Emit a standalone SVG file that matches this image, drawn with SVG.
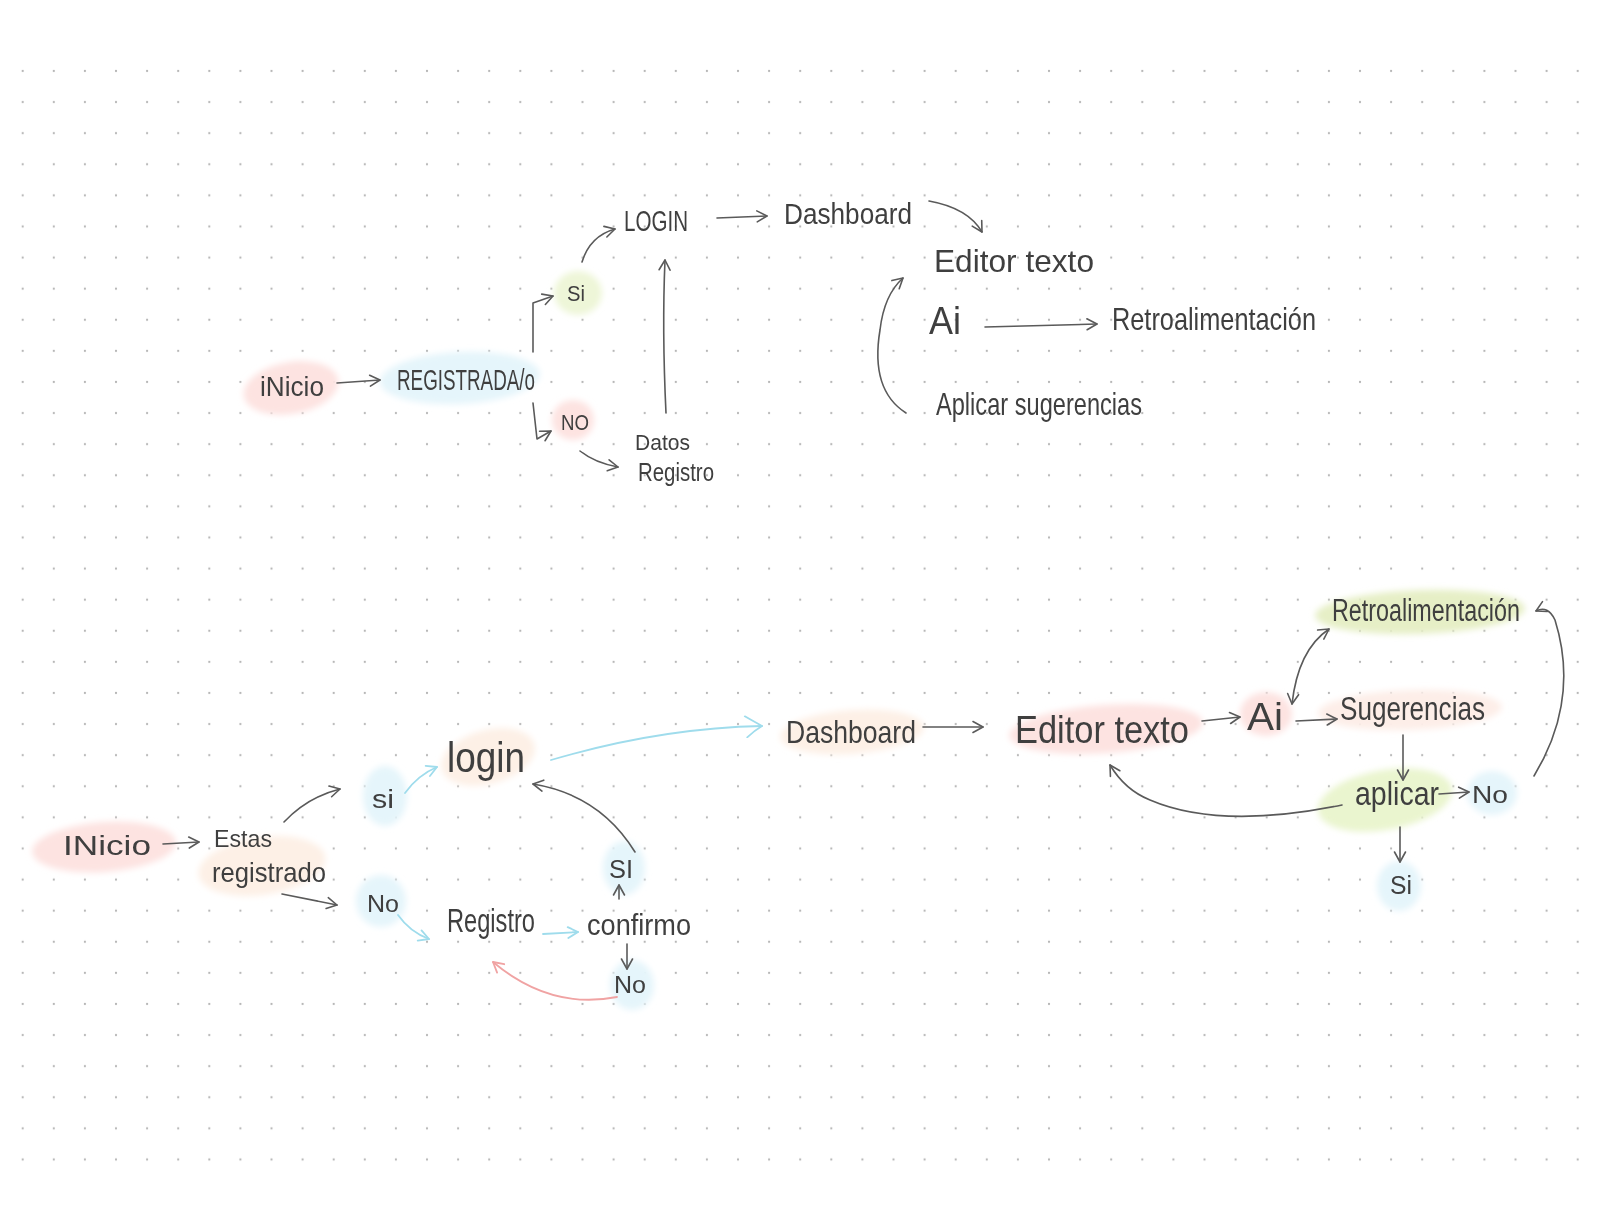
<svg xmlns="http://www.w3.org/2000/svg" width="1600" height="1230" viewBox="0 0 1600 1230">
<defs>
<pattern id="dots" patternUnits="userSpaceOnUse" x="7.15" y="55.45" width="31.1" height="31.1">
<circle cx="15.55" cy="15.55" r="1.1" fill="#b4b4b4"/>
</pattern>
<filter id="soft" x="-20%" y="-40%" width="140%" height="180%"><feGaussianBlur stdDeviation="3"/></filter>
<marker id="ag" viewBox="0 0 14 14" refX="12" refY="7" markerWidth="14" markerHeight="14" markerUnits="userSpaceOnUse" orient="auto-start-reverse"><path d="M2,1.5 L12,7 L2,12.5" fill="none" stroke="#5a5a5a" stroke-width="1.6" stroke-linecap="round" stroke-linejoin="round"/></marker>
<marker id="ab" viewBox="0 0 14 14" refX="12" refY="7" markerWidth="14" markerHeight="14" markerUnits="userSpaceOnUse" orient="auto"><path d="M2,1.5 L12,7 L2,12.5" fill="none" stroke="#9fdcec" stroke-width="1.8" stroke-linecap="round" stroke-linejoin="round"/></marker>
<marker id="abig" viewBox="0 0 24 24" refX="21" refY="12" markerWidth="24" markerHeight="24" markerUnits="userSpaceOnUse" orient="auto"><path d="M4,2 Q14,8 21,12 Q14,16 6,23" fill="none" stroke="#9fdcec" stroke-width="1.8" stroke-linecap="round" stroke-linejoin="round"/></marker>
<marker id="ap" viewBox="0 0 14 14" refX="12" refY="7" markerWidth="14" markerHeight="14" markerUnits="userSpaceOnUse" orient="auto"><path d="M2,1.5 L12,7 L2,12.5" fill="none" stroke="#f0a3a3" stroke-width="1.8" stroke-linecap="round" stroke-linejoin="round"/></marker>
</defs>
<style>
text{font-family:"Liberation Sans","DejaVu Sans",sans-serif;fill:#3f3f3f;}
.c{fill:none;stroke:#5a5a5a;stroke-width:1.6;stroke-linecap:round;stroke-linejoin:round;}
.cb{fill:none;stroke:#9fdcec;stroke-width:1.8;stroke-linecap:round;}
.cp{fill:none;stroke:#f0a3a3;stroke-width:1.8;stroke-linecap:round;}
.pink{fill:#fde3e1;}
.blue{fill:#e5f5fb;}
.green{fill:#eef6d8;}
.peach{fill:#fdf0e6;}
.lime{fill:#e6efc6;}
</style>
<rect width="1600" height="1230" fill="#ffffff"/>
<rect x="7" y="55" width="1590" height="1120" fill="url(#dots)"/>

<g id="blobs" filter="url(#soft)">
<ellipse class="pink" cx="291" cy="388" rx="48" ry="26" transform="rotate(-10 291 388)"/>
<ellipse class="blue" cx="460" cy="378" rx="80" ry="26" transform="rotate(-3 460 378)"/>
<ellipse class="green" cx="578" cy="293" rx="24" ry="22"/>
<ellipse class="pink" cx="573" cy="420" rx="21" ry="20"/>
<ellipse class="pink" cx="104" cy="847" rx="72" ry="25" transform="rotate(-4 104 847)"/>
<ellipse class="peach" cx="262" cy="866" rx="64" ry="29" transform="rotate(-8 262 866)"/>
<ellipse class="blue" cx="385" cy="796" rx="22" ry="30"/>
<ellipse class="peach" cx="488" cy="757" rx="48" ry="27" transform="rotate(-15 488 757)"/>
<ellipse class="blue" cx="381" cy="901" rx="25" ry="26"/>
<ellipse class="blue" cx="624" cy="868" rx="21" ry="27"/>
<ellipse class="blue" cx="632" cy="985" rx="22" ry="25"/>
<ellipse class="peach" cx="852" cy="732" rx="72" ry="22" transform="rotate(-4 852 732)"/>
<ellipse class="pink" cx="1106" cy="729" rx="97" ry="24" transform="rotate(-4 1106 729)"/>
<ellipse class="pink" cx="1266" cy="714" rx="26" ry="22"/>
<ellipse class="pink" cx="1410" cy="710" rx="92" ry="20" transform="rotate(-2 1410 710)" style="fill:#fdeee8"/>
<ellipse class="lime" cx="1420" cy="612" rx="105" ry="22" transform="rotate(-2 1420 612)"/>
<ellipse class="green" cx="1385" cy="800" rx="68" ry="30" transform="rotate(-10 1385 800)" style="fill:#eaf5cf"/>
<ellipse class="blue" cx="1492" cy="793" rx="25" ry="22"/>
<ellipse class="blue" cx="1399" cy="886" rx="22" ry="25"/>
</g>

<g id="connectors">
<path class="c" d="M337,383 L380,380" marker-end="url(#ag)"/>
<path class="c" d="M533,352 L533,303 L553,296" marker-end="url(#ag)"/>
<path class="c" d="M582,262 Q590,236 615,229" marker-end="url(#ag)"/>
<path class="c" d="M717,218 L767,216" marker-end="url(#ag)"/>
<path class="c" d="M929,201 Q968,208 982,232" marker-end="url(#ag)"/>
<path class="c" d="M985,327 L1097,324" marker-end="url(#ag)"/>
<path class="c" d="M906,413 Q870,390 880,330 Q884,295 903,278" marker-end="url(#ag)"/>
<path class="c" d="M533,403 L537,439 L551,431" marker-end="url(#ag)"/>
<path class="c" d="M580,451 Q595,463 618,467" marker-end="url(#ag)"/>
<path class="c" d="M666,413 Q662,330 665,260" marker-end="url(#ag)"/>

<path class="c" d="M163,844 L199,842" marker-end="url(#ag)"/>
<path class="c" d="M284,822 Q308,797 340,789" marker-end="url(#ag)"/>
<path class="c" d="M282,894 L337,905" marker-end="url(#ag)"/>
<path class="cb" d="M405,793 Q418,775 437,767" marker-end="url(#ab)"/>
<path class="cb" d="M398,915 Q410,932 429,939" marker-end="url(#ab)"/>
<path class="cb" d="M543,934 L578,932" marker-end="url(#ab)"/>
<path class="c" d="M619,899 L619,885" marker-end="url(#ag)"/>
<path class="c" d="M635,852 Q600,795 533,784" marker-end="url(#ag)"/>
<path class="c" d="M627,944 L627,969" marker-end="url(#ag)"/>
<path class="cp" d="M617,997 Q550,1010 493,962" marker-end="url(#ap)"/>
<path class="cb" d="M551,760 Q660,728 762,726" marker-end="url(#abig)"/>
<path class="c" d="M923,727 L983,727" marker-end="url(#ag)"/>
<path class="c" d="M1202,721 L1240,717" marker-end="url(#ag)"/>
<path class="c" d="M1296,721 L1337,719" marker-end="url(#ag)"/>
<path class="c" d="M1292,704 Q1298,650 1329,629" marker-start="url(#ag)" marker-end="url(#ag)"/>
<path class="c" d="M1403,735 L1403,780" marker-end="url(#ag)"/>
<path class="c" d="M1439,794 L1469,792" marker-end="url(#ag)"/>
<path class="c" d="M1534,776 Q1580,700 1555,620 Q1548,605 1536,611" marker-end="url(#ag)"/>
<path class="c" d="M1342,805 Q1220,830 1150,800 Q1125,790 1110,765" marker-end="url(#ag)"/>
<path class="c" d="M1400,827 L1400,862" marker-end="url(#ag)"/>
</g>

<g id="n-inicio-top"><text x="260" y="396" font-size="28" textLength="64" lengthAdjust="spacingAndGlyphs">iNicio</text></g>
<g id="n-registrada"><text x="397" y="390" font-size="30" textLength="138" lengthAdjust="spacingAndGlyphs">REGISTRADA/o</text></g>
<g id="n-si-top"><text x="567" y="301" font-size="22" textLength="18" lengthAdjust="spacingAndGlyphs">Si</text></g>
<g id="n-login-top"><text x="624" y="231" font-size="30" textLength="64" lengthAdjust="spacingAndGlyphs">LOGIN</text></g>
<g id="n-dashboard-top"><text x="784" y="224" font-size="30" textLength="128" lengthAdjust="spacingAndGlyphs">Dashboard</text></g>
<g id="n-editor-top"><text x="934" y="272" font-size="32" textLength="160" lengthAdjust="spacingAndGlyphs">Editor texto</text></g>
<g id="n-ai-top"><text x="929" y="334" font-size="38" textLength="32" lengthAdjust="spacingAndGlyphs">Ai</text></g>
<g id="n-retro-top"><text x="1112" y="330" font-size="32" textLength="204" lengthAdjust="spacingAndGlyphs">Retroalimentación</text></g>
<g id="n-aplicar-top"><text x="936" y="415" font-size="32" textLength="206" lengthAdjust="spacingAndGlyphs">Aplicar sugerencias</text></g>
<g id="n-no-top"><text x="561" y="430" font-size="22" textLength="28" lengthAdjust="spacingAndGlyphs">NO</text></g>
<g id="n-datos"><text x="635" y="450" font-size="22" textLength="55" lengthAdjust="spacingAndGlyphs">Datos</text><text x="638" y="481" font-size="26" textLength="76" lengthAdjust="spacingAndGlyphs">Registro</text></g>

<g id="n-inicio-bot"><text x="63" y="855" font-size="28" textLength="88" lengthAdjust="spacingAndGlyphs">INicio</text></g>
<g id="n-estas"><text x="214" y="847" font-size="24" textLength="58" lengthAdjust="spacingAndGlyphs">Estas</text><text x="212" y="882" font-size="28" textLength="114" lengthAdjust="spacingAndGlyphs">registrado</text></g>
<g id="n-si-bot"><text x="372" y="808" font-size="26" textLength="22" lengthAdjust="spacingAndGlyphs">si</text></g>
<g id="n-login-bot"><text x="447" y="772" font-size="42" textLength="78" lengthAdjust="spacingAndGlyphs">login</text></g>
<g id="n-no-bot"><text x="367" y="912" font-size="24" textLength="32" lengthAdjust="spacingAndGlyphs">No</text></g>
<g id="n-registro-bot"><text x="447" y="932" font-size="34" textLength="88" lengthAdjust="spacingAndGlyphs">Registro</text></g>
<g id="n-confirmo"><text x="587" y="935" font-size="30" textLength="104" lengthAdjust="spacingAndGlyphs">confirmo</text></g>
<g id="n-si-confirm"><text x="609" y="878" font-size="26" textLength="24" lengthAdjust="spacingAndGlyphs">SI</text></g>
<g id="n-no-confirm"><text x="614" y="993" font-size="24" textLength="32" lengthAdjust="spacingAndGlyphs">No</text></g>
<g id="n-dashboard-bot"><text x="786" y="743" font-size="32" textLength="130" lengthAdjust="spacingAndGlyphs">Dashboard</text></g>
<g id="n-editor-bot"><text x="1015" y="743" font-size="38" textLength="174" lengthAdjust="spacingAndGlyphs">Editor texto</text></g>
<g id="n-ai-bot"><text x="1247" y="730" font-size="38" textLength="36" lengthAdjust="spacingAndGlyphs">Ai</text></g>
<g id="n-sugerencias"><text x="1340" y="720" font-size="34" textLength="145" lengthAdjust="spacingAndGlyphs">Sugerencias</text></g>
<g id="n-retro-bot"><text x="1332" y="621" font-size="31" textLength="188" lengthAdjust="spacingAndGlyphs">Retroalimentación</text></g>
<g id="n-aplicar-bot"><text x="1355" y="805" font-size="34" textLength="84" lengthAdjust="spacingAndGlyphs">aplicar</text></g>
<g id="n-no-right"><text x="1472" y="803" font-size="24" textLength="36" lengthAdjust="spacingAndGlyphs">No</text></g>
<g id="n-si-bot-right"><text x="1390" y="894" font-size="26" textLength="22" lengthAdjust="spacingAndGlyphs">Si</text></g>
</svg>
